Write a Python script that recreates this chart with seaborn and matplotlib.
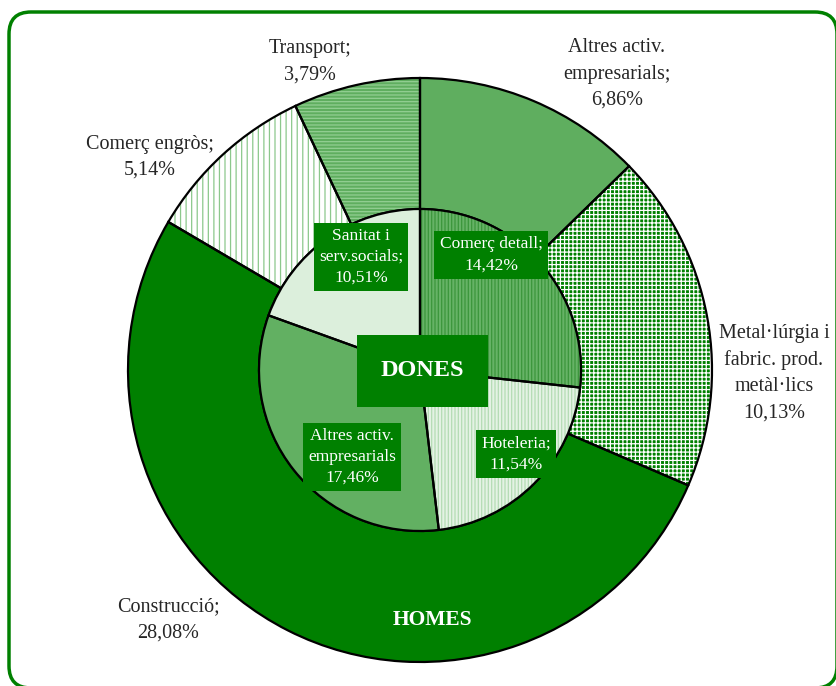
import numpy as np
import pandas as pd
import matplotlib
matplotlib.use("Agg")
import matplotlib.pyplot as plt
from matplotlib.patches import FancyBboxPatch, Rectangle
import seaborn as sns

# ----------- Data --------------

homes_labels = ["Altres activ.\nempresarials;\n6,86%", "Metal·lúrgia i\nfabric. prod.\nmetàl·lics\n10,13%",
                "Construcció;\n28,08%", "Comerç engròs;\n5,14%", "Transport;\n3,79%"]
homes_values = [6.86, 10.13, 28.08, 5.14, 3.79]

dones_labels = ["Comerç detall;\n14,42%", "Hoteleria;\n11,54%",
                "Altres activ.\nempresarials\n17,46%", "Sanitat i\nserv.socials;\n10,51%"]
dones_values = [14.42, 11.54, 17.46, 10.51]

# ----------- Styles --------------

homes_face = ["#5fae5f", "#008000", "#008000", "#ffffff", "#5fae5f"]
homes_hatch = [None, "++++", None, "|||", "-----"]
homes_hcol = ["none", "#ffffff", "none", "#8cc88c", "#93cf93"]

dones_face = ["#66b366", "#e4f2e4", "#62b062", "#dcefdc"]
dones_hatch = ["|||||", "|||||", None, None]
dones_hcol = ["#3c963c", "#b4dcb4", "none", "none"]

sns.set_theme(style="white")
plt.rcParams["font.family"] = ["Liberation Serif", "DejaVu Serif"]
plt.rcParams["hatch.linewidth"] = 0.9

W, H = 836, 686
fig = plt.figure(figsize=(W / 100, H / 100), dpi=100)
ax = fig.add_axes([0, 0, 1, 1])


def Y(y):
    return H - y


cx, cy = 420, Y(370)
r_out, r_in = 292, 161


def ring(values, radius, width, faces, hatches, hcols):
    wp = dict(width=width) if width else {}
    ax.pie(values, radius=radius, center=(cx, cy), startangle=90, counterclock=False,
           colors=faces, wedgeprops=dict(linewidth=0, edgecolor="none", **wp), frame=True)
    wedges, _ = ax.pie(values, radius=radius, center=(cx, cy), startangle=90, counterclock=False,
                       wedgeprops=dict(linewidth=0, facecolor="none", **wp), frame=True)
    for w, h, c in zip(wedges, hatches, hcols):
        if h:
            w.set_hatch(h)
            w.set_edgecolor(c)
    ax.pie(values, radius=radius, center=(cx, cy), startangle=90, counterclock=False,
           wedgeprops=dict(linewidth=1.6, facecolor="none", edgecolor="black", **wp), frame=True)


ring(homes_values, r_out, r_out - r_in, homes_face, homes_hatch, homes_hcol)
ring(dones_values, r_in, None, dones_face, dones_hatch, dones_hcol)

ax.set_xlim(0, W)
ax.set_ylim(0, H)
ax.set_aspect("equal")
ax.axis("off")

# ----------- Outer labels (HOMES) --------------

fs = 14.5
ls = 1.5
ax.text(617, Y(74), homes_labels[0], ha="center", va="center", fontsize=fs, linespacing=ls)
ax.text(774, Y(373), homes_labels[1], ha="center", va="center", fontsize=fs, linespacing=ls)
ax.text(168, Y(620), homes_labels[2], ha="center", va="center", fontsize=fs, linespacing=ls)
ax.text(150, Y(157), homes_labels[3], ha="center", va="center", fontsize=fs, linespacing=ls)
ax.text(310, Y(62), homes_labels[4], ha="center", va="center", fontsize=fs, linespacing=ls)

# ----------- Inner labels (DONES) --------------

box = dict(boxstyle="square,pad=0.3", fc="#008000", ec="none")
fi = 12.5
ax.text(491, Y(255), dones_labels[0], ha="center", va="center", fontsize=fi, color="white",
        linespacing=1.45, bbox=box)
ax.text(516, Y(454), dones_labels[1], ha="center", va="center", fontsize=fi, color="white",
        linespacing=1.45, bbox=box)
ax.text(352, Y(457), dones_labels[2], ha="center", va="center", fontsize=fi, color="white",
        linespacing=1.4, bbox=box)
ax.text(361, Y(257), dones_labels[3], ha="center", va="center", fontsize=fi, color="white",
        linespacing=1.4, bbox=box)

ax.add_patch(Rectangle((357, Y(407)), 131, 72, facecolor="#008000", edgecolor="none", zorder=3))
ax.text(422, Y(370), "DONES", ha="center", va="center", fontsize=17.5, fontweight="bold",
        color="white", zorder=4)
ax.text(432, Y(620), "HOMES", ha="center", va="center", fontsize=15.5, fontweight="bold",
        color="white", zorder=4)

# ----------- Frame --------------

fig.patches.append(FancyBboxPatch((9, Y(688)), 828, 676,
                                  boxstyle="round,pad=0,rounding_size=22",
                                  transform=None, facecolor="none",
                                  edgecolor="#008000", linewidth=2.5))

fig.savefig("out.png", dpi=100)
